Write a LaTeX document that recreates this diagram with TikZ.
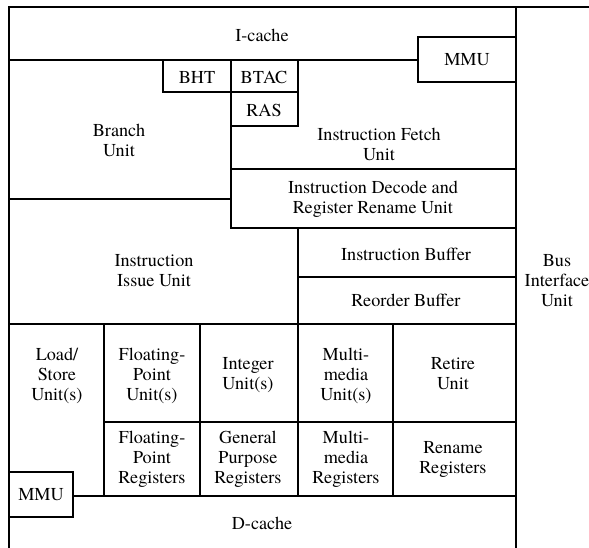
\documentclass[tikz,border=0pt]{standalone}
\usepackage{fontspec}
\setmainfont{TeX Gyre Termes}
\begin{document}
\begin{tikzpicture}[x=1pt,y=-1pt,
  frame/.style={line width=1.1pt,line cap=rect},
  lbl/.style={align=center,inner sep=0pt,font=\fontsize{18.2}{20}\selectfont}]
\useasboundingbox (0,0) rectangle (589,547);
% outline
\draw[frame] (9,547) -- (9,7) -- (589,7);
\draw[frame] (516,7) -- (516,547);
% I-cache and top MMU
\draw[frame] (9,60) -- (418,60);
\draw[frame] (418,37) rectangle (516,82);
% BHT / BTAC / RAS
\draw[frame] (163,60) rectangle (231,92);
\draw[frame] (231,60) rectangle (298,92);
\draw[frame] (231,92) rectangle (298,126);
\draw[frame] (231,92) -- (231,228);
\draw[frame] (9,199) -- (231,199);
\draw[frame] (231,169) -- (516,169);
\draw[frame] (231,228) -- (516,228);
% issue / buffers
\draw[frame] (298,228) -- (298,496);
\draw[frame] (298,277) -- (516,277);
\draw[frame] (9,324) -- (516,324);
% execution grid
\draw[frame] (104,324) -- (104,496);
\draw[frame] (200,324) -- (200,496);
\draw[frame] (393,324) -- (393,496);
\draw[frame] (104,422) -- (516,422);
\draw[frame] (73,496) -- (516,496);
\draw[frame] (9,472) rectangle (73,517);
% labels
\node[lbl] (icache) at (262,35) {I-cache};
\node[lbl] (mmu1) at (467,60) {MMU};
\node[lbl] (bht) at (197,77) {BHT};
\node[lbl] (btac) at (264,77) {BTAC};
\node[lbl] (ras) at (264,110) {RAS};
\node[lbl] (branch) at (119,140) {Branch\\Unit};
\node[lbl] (fetch) at (379,144) {Instruction Fetch\\Unit};
\node[lbl] (decode) at (373,199) {Instruction Decode and\\Register Rename Unit};
\node[lbl] (issue) at (154,271) {Instruction\\Issue Unit};
\node[lbl] (ibuf) at (406,254) {Instruction Buffer};
\node[lbl] (rob) at (406,300) {Reorder Buffer};
\node[lbl] (bus) at (557,281) {Bus\\Interface\\Unit};
\node[lbl] (ls) at (57,376) {Load/\\Store\\Unit(s)};
\node[lbl] (fpu) at (152,376) {Floating-\\Point\\Unit(s)};
\node[lbl] (int) at (248,375) {Integer\\Unit(s)};
\node[lbl] (mmu) at (346,376) {Multi-\\media\\Unit(s)};
\node[lbl] (retire) at (453,374) {Retire\\Unit};
\node[lbl] (fpr) at (152,459) {Floating-\\Point\\Registers};
\node[lbl] (gpr) at (248,459) {General\\Purpose\\Registers};
\node[lbl] (mmr) at (346,459) {Multi-\\media\\Registers};
\node[lbl] (ren) at (453,459) {Rename\\Registers};
\node[lbl] (mmu2) at (41,495) {MMU};
\node[lbl] (dcache) at (262,523) {D-cache};
\end{tikzpicture}
\end{document}
